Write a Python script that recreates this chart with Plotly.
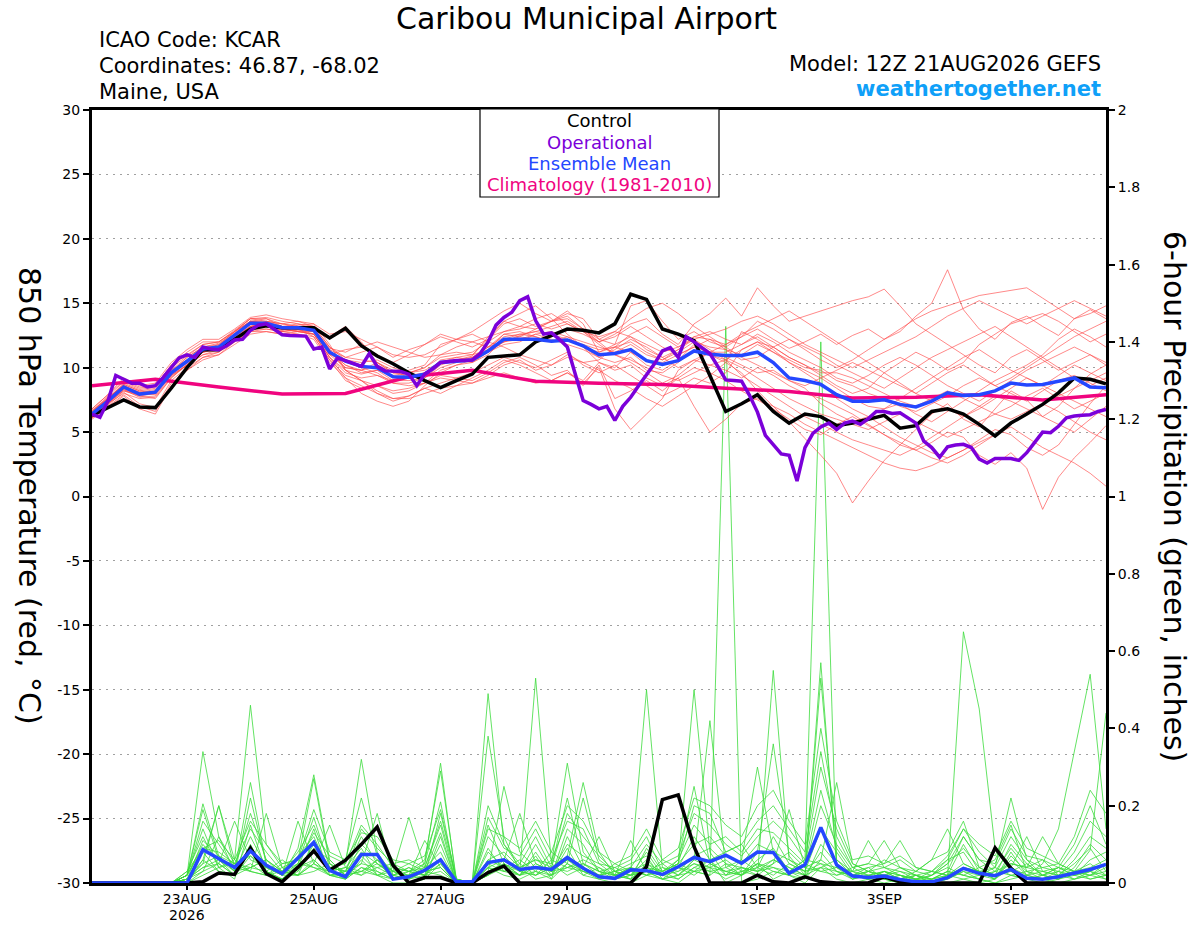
import pandas as pd
import plotly.graph_objects as go

# time axis: GEFS 12Z 21 Aug 2026 run, 6-hourly for 16 days
times = pd.date_range("2026-08-21 12:00", "2026-09-06 12:00", freq="6h")
op_times = pd.date_range("2026-08-21 12:00", "2026-09-06 12:00", freq="3h")
clim_times = pd.date_range("2026-08-21 12:00", "2026-09-06 12:00", freq="1D")

tick_dates = ["2026-08-23", "2026-08-25", "2026-08-27", "2026-08-29",
              "2026-09-01", "2026-09-03", "2026-09-05"]
tick_labels = ["23AUG", "25AUG", "27AUG", "29AUG", "1SEP", "3SEP", "5SEP"]
temp_ticks = [-30, -25, -20, -15, -10, -5, 0, 5, 10, 15, 20, 25, 30]
temp_tick_labels = ["-30", "-25", "-20", "-15", "-10", "-5", "0", "5", "10", "15", "20", "25", "30"]

# 850 hPa temperature (C)
control_temp = [6.3, 6.9, 7.5, 6.95, 6.9, 8.4, 10.0, 11.4, 11.4, 12.2, 13.0, 13.26, 13.1, 13.1, 13.1, 12.3,
                13.06, 11.7, 10.9, 10.3, 9.6, 9.0, 8.45, 9.0, 9.5, 10.8, 10.9, 11.0, 12.0, 12.5, 13.0, 12.9,
                12.7, 13.4, 15.7, 15.3, 13.0, 12.6, 12.1, 9.4, 6.6, 7.2, 7.9, 6.6, 5.7, 6.4, 6.2, 5.5,
                5.7, 6.0, 6.3, 5.3, 5.5, 6.6, 6.8, 6.4, 5.6, 4.7, 5.7, 6.4, 7.15, 8.05, 9.2, 9.1, 8.75]

mean_temp = [6.4, 7.4, 8.5, 7.95, 8.1, 9.6, 10.5, 11.45, 11.6, 12.5, 13.45, 13.45, 13.1, 13.1, 12.9, 11.2,
             10.5, 10.1, 10.0, 9.3, 9.25, 9.5, 10.4, 10.5, 10.6, 11.3, 12.2, 12.2, 12.2, 12.05, 12.15, 11.7,
             11.0, 11.1, 11.4, 10.55, 10.25, 10.55, 11.3, 11.05, 10.95, 10.95, 11.2, 10.4, 9.2, 9.0, 8.7, 7.9,
             7.4, 7.4, 7.5, 7.15, 6.95, 7.4, 8.05, 7.85, 7.9, 8.2, 8.8, 8.65, 8.7, 8.95, 9.2, 8.5, 8.45]

# operational run, 3-hourly
oper_temp = [6.4, 6.15, 7.4, 9.4, 9.1, 8.8, 8.8, 8.5, 8.6, 9.25, 10.0, 10.75, 11.0, 10.8, 11.6, 11.45,
             11.4, 11.7, 12.15, 12.2, 12.9, 13.3, 13.4, 13.0, 12.55, 12.5, 12.5, 12.45, 11.45, 11.6, 9.9, 10.75,
             10.55, 10.3, 10.1, 11.1, 10.1, 9.75, 9.75, 9.7, 9.5, 8.6, 9.5, 9.9, 10.4, 10.5, 10.55, 10.55,
             10.6, 11.1, 12.0, 13.3, 13.9, 14.3, 15.2, 15.5, 13.65, 12.6, 12.7, 12.2, 11.6, 9.5, 7.45, 7.15,
             6.8, 7.0, 5.9, 7.0, 7.7, 8.6, 9.4, 10.3, 11.3, 11.55, 10.8, 12.4, 12.0, 11.55, 11.1, 10.1,
             9.05, 9.0, 8.95, 7.85, 6.55, 4.75, 4.0, 3.3, 3.2, 1.2, 3.8, 4.9, 5.4, 5.7, 5.2, 5.7,
             5.85, 5.6, 6.05, 6.6, 6.6, 6.45, 6.5, 6.1, 5.7, 4.3, 3.8, 3.05, 3.85, 4.0, 4.05, 3.8,
             2.9, 2.6, 2.95, 2.95, 2.95, 2.8, 3.4, 4.2, 5.0, 4.95, 5.45, 6.1, 6.25, 6.3, 6.35, 6.6, 6.75]

clim_temp = [8.6, 9.1, 8.5, 7.95, 8.0, 9.3, 9.8, 8.95, 8.8, 8.7, 8.4, 8.15, 7.65, 7.7, 7.9, 7.5, 7.9]

# ensemble members (temperature)
temp_m01 = [6.6, 7.8, 8.9, 8.4, 8.6, 10.2, 11.0, 11.8, 12.0, 12.9, 13.8, 13.9, 13.6, 13.4, 13.0, 11.5,
            11.2, 11.8, 11.0, 10.4, 11.0, 11.8, 12.6, 12.2, 12.8, 13.6, 14.4, 15.0, 14.2, 13.6, 14.4, 13.4,
            11.2, 11.8, 14.8, 15.2, 13.6, 12.2, 12.8, 12.0, 11.6, 12.4, 13.0, 12.2, 11.5, 12.0, 12.6, 11.8,
            12.5, 13.0, 12.2, 12.8, 14.0, 15.0, 17.6, 14.5, 13.0, 12.2, 13.5, 14.0, 13.2, 12.5, 13.8, 14.5, 13.8]
temp_m02 = [6.2, 7.2, 8.2, 7.8, 7.6, 9.2, 10.3, 11.3, 11.4, 12.2, 13.2, 13.2, 12.9, 13.3, 13.4, 11.8,
            9.8, 9.0, 8.2, 7.6, 7.8, 8.4, 8.8, 9.2, 9.0, 9.6, 10.4, 10.8, 10.2, 9.4, 9.8, 8.6,
            10.2, 7.6, 8.2, 9.0, 8.2, 9.2, 10.0, 9.6, 9.0, 8.2, 7.5, 6.8, 6.0, 5.2, 4.8, 5.6,
            6.2, 5.5, 4.8, 4.0, 3.6, 4.2, 5.0, 4.6, 3.2, 2.5, 3.4, 2.2, -1.0, 1.5, 3.0, 4.2, 5.5]
temp_m03 = [6.5, 7.6, 8.7, 8.2, 8.4, 9.8, 10.6, 11.6, 11.9, 12.7, 13.6, 13.5, 13.0, 12.8, 12.6, 10.8,
            9.8, 9.5, 9.8, 9.0, 9.0, 9.2, 10.2, 10.6, 10.9, 12.4, 13.6, 14.2, 14.8, 13.8, 12.6, 11.6,
            10.4, 10.0, 11.2, 10.2, 9.8, 10.6, 11.8, 11.0, 10.4, 9.6, 8.2, 7.0, 5.8, 4.5, 3.2, 1.8,
            -0.5, 1.2, 2.8, 4.0, 5.2, 6.4, 7.2, 6.0, 5.4, 6.8, 8.2, 7.5, 6.2, 7.0, 8.4, 9.5, 10.2]
temp_m04 = [6.3, 7.3, 8.4, 7.9, 8.2, 9.6, 10.8, 11.6, 11.5, 12.4, 13.2, 13.6, 13.4, 13.6, 13.2, 11.2,
            10.0, 9.8, 10.4, 9.6, 9.8, 10.2, 11.8, 12.2, 12.0, 11.6, 12.0, 12.5, 12.8, 13.2, 13.6, 12.8,
            12.0, 12.6, 13.4, 13.8, 12.6, 11.8, 13.4, 14.2, 15.4, 14.0, 16.2, 14.8, 13.6, 14.0, 14.4, 14.8,
            15.2, 15.5, 16.1, 14.8, 13.4, 12.6, 11.8, 11.0, 10.2, 9.6, 10.8, 11.4, 10.6, 9.8, 10.4, 11.0, 10.2]
temp_m05 = [6.8, 7.9, 9.2, 8.6, 8.8, 10.4, 11.4, 12.2, 12.2, 13.0, 13.9, 14.1, 13.8, 13.6, 13.4, 12.6,
            12.8, 12.2, 11.6, 10.8, 11.4, 11.8, 12.4, 12.0, 11.6, 12.2, 13.6, 13.2, 13.0, 13.6, 14.2, 13.8,
            12.2, 11.8, 12.4, 11.8, 11.2, 11.6, 12.4, 12.8, 12.2, 11.8, 12.4, 11.6, 10.8, 10.2, 9.4, 8.6,
            8.0, 8.4, 9.6, 10.4, 11.2, 10.6, 9.8, 10.4, 11.8, 12.6, 13.4, 13.8, 14.2, 13.6, 12.8, 12.0, 12.6]
temp_m06 = [6.1, 7.0, 7.9, 7.0, 6.6, 8.8, 9.8, 10.8, 11.0, 12.0, 12.8, 13.0, 12.8, 12.6, 12.2, 10.4,
            9.2, 8.0, 7.4, 7.0, 7.4, 8.6, 9.6, 10.2, 10.6, 11.2, 11.8, 12.0, 12.6, 12.2, 11.8, 11.4,
            10.8, 11.4, 12.2, 11.6, 10.8, 10.0, 10.6, 11.2, 10.8, 10.2, 9.6, 9.8, 9.0, 8.4, 7.2, 6.4,
            5.8, 6.2, 5.4, 4.6, 4.0, 3.4, 3.0, 3.6, 4.4, 5.2, 4.8, 3.8, 3.2, 4.0, 5.6, 7.2, 8.6]
temp_m07 = [6.6, 7.7, 8.6, 8.1, 7.9, 9.4, 10.2, 11.2, 11.6, 12.6, 13.6, 13.8, 13.2, 13.0, 12.4, 10.6,
            9.0, 8.4, 8.6, 8.2, 8.4, 8.8, 9.2, 9.0, 8.8, 9.4, 10.2, 10.6, 9.8, 10.2, 11.0, 10.4,
            9.8, 9.0, 8.4, 7.6, 7.0, 7.8, 8.6, 9.4, 10.4, 12.8, 12.2, 11.4, 10.4, 9.8, 9.2, 8.4,
            7.6, 7.0, 6.8, 7.2, 6.4, 5.8, 6.6, 7.4, 8.2, 9.0, 9.6, 10.2, 11.0, 12.2, 13.0, 12.4, 11.6]
temp_m08 = [6.4, 7.5, 8.6, 8.0, 8.1, 9.5, 10.4, 11.2, 11.6, 12.6, 13.4, 13.2, 12.9, 13.1, 13.2, 11.6,
            10.8, 10.6, 10.4, 9.8, 9.2, 9.4, 10.6, 10.8, 10.6, 11.4, 12.6, 12.8, 12.4, 12.0, 12.2, 11.6,
            11.2, 11.6, 12.0, 11.2, 10.6, 11.2, 12.0, 11.6, 11.4, 11.0, 11.8, 11.2, 10.6, 10.0, 9.8, 9.0,
            8.6, 8.0, 7.6, 7.0, 6.6, 7.2, 7.8, 8.6, 9.2, 8.6, 8.0, 7.4, 8.2, 9.0, 9.4, 8.8, 8.2]
temp_m09 = [6.2, 7.3, 8.3, 7.7, 7.8, 9.3, 10.2, 11.0, 11.4, 12.2, 13.0, 13.0, 12.8, 12.9, 12.8, 11.0,
            10.6, 10.4, 10.6, 10.0, 9.6, 9.8, 10.4, 10.8, 11.0, 12.2, 13.4, 13.8, 13.2, 13.6, 14.0, 13.0,
            12.0, 11.0, 10.6, 10.0, 9.4, 9.0, 9.6, 10.2, 10.6, 11.4, 12.0, 11.2, 10.4, 9.6, 8.8, 7.6,
            6.8, 6.2, 6.8, 7.6, 8.4, 9.2, 10.0, 10.8, 11.4, 10.6, 9.8, 9.2, 8.6, 9.4, 10.2, 9.6, 9.0]
temp_m10 = [6.7, 7.6, 8.8, 8.3, 8.5, 10.0, 10.9, 11.8, 12.0, 12.8, 13.8, 13.6, 13.4, 13.2, 13.0, 11.2,
            10.2, 9.8, 9.4, 8.8, 8.8, 9.2, 10.0, 10.4, 10.8, 11.6, 12.4, 12.6, 12.4, 12.0, 12.4, 12.0,
            11.6, 11.2, 11.8, 11.0, 10.6, 11.4, 12.4, 12.2, 11.8, 12.4, 13.6, 13.0, 12.2, 11.4, 10.6, 10.0,
            10.6, 11.4, 12.2, 13.0, 13.8, 14.4, 14.8, 15.2, 15.6, 15.8, 16.0, 16.2, 15.4, 14.6, 13.8, 14.2, 14.8]
temp_m11 = [6.0, 6.9, 7.8, 6.8, 6.4, 8.6, 9.8, 10.6, 11.0, 11.8, 12.6, 12.8, 12.6, 12.8, 12.6, 10.8,
            9.2, 8.6, 8.0, 7.6, 7.6, 8.0, 8.4, 8.6, 8.8, 9.2, 9.6, 9.2, 8.8, 9.0, 9.6, 8.8,
            10.0, 6.8, 5.2, 6.4, 7.6, 9.8, 10.6, 10.2, 9.8, 9.2, 10.0, 9.4, 8.6, 8.0, 7.6, 7.0,
            6.4, 5.6, 4.8, 4.2, 3.6, 3.0, 2.6, 3.2, 4.0, 4.8, 5.6, 6.4, 7.2, 6.6, 5.8, 5.0, 4.4]
temp_m12 = [6.5, 7.5, 8.5, 8.1, 8.3, 9.7, 10.6, 11.5, 11.7, 12.8, 13.6, 13.4, 13.0, 12.8, 12.8, 11.2,
            10.2, 9.6, 9.8, 9.4, 9.6, 10.0, 11.0, 11.2, 11.0, 11.4, 12.0, 12.4, 13.0, 13.6, 13.8, 13.0,
            12.2, 12.8, 13.8, 14.6, 15.0, 14.2, 13.2, 12.4, 11.6, 10.8, 10.2, 9.6, 9.0, 8.6, 9.2, 9.8,
            10.4, 9.8, 9.2, 8.6, 8.0, 8.8, 9.6, 10.2, 9.4, 8.6, 9.2, 10.0, 10.8, 11.6, 12.4, 13.0, 13.6]
temp_m13 = [6.3, 7.4, 8.4, 7.8, 8.0, 9.4, 10.4, 11.4, 11.8, 12.6, 13.4, 13.2, 12.8, 13.0, 13.0, 11.4,
            10.8, 11.2, 11.6, 11.0, 10.8, 11.0, 11.6, 12.2, 12.6, 12.0, 11.6, 11.0, 10.6, 10.2, 10.8, 10.4,
            10.6, 11.6, 12.6, 13.2, 12.4, 11.6, 12.2, 11.4, 10.6, 9.4, 8.6, 7.8, 7.0, 6.2, 5.6, 5.0,
            4.4, 4.0, 3.6, 3.2, 3.8, 4.6, 5.4, 6.2, 7.0, 7.8, 7.4, 6.8, 6.2, 5.6, 5.0, 6.0, 7.0]
temp_m14 = [6.6, 7.6, 8.7, 8.2, 8.1, 9.7, 10.6, 11.4, 11.6, 12.6, 13.6, 13.6, 13.2, 13.0, 12.8, 11.0,
            10.0, 9.8, 10.2, 9.6, 9.4, 9.6, 10.4, 10.6, 10.4, 11.0, 12.2, 12.6, 12.8, 12.6, 12.2, 11.8,
            11.4, 11.6, 11.2, 10.6, 10.4, 11.0, 11.6, 11.2, 11.2, 11.8, 12.6, 12.0, 11.2, 10.6, 10.0, 9.2,
            8.8, 9.4, 10.2, 10.8, 10.2, 9.4, 8.6, 8.0, 7.4, 8.2, 9.0, 9.8, 10.4, 11.0, 11.6, 11.0, 10.4]
temp_m15 = [6.4, 7.3, 8.2, 7.9, 8.0, 9.4, 10.2, 11.2, 11.4, 12.2, 13.2, 13.4, 13.2, 13.4, 13.2, 11.6,
            10.6, 10.0, 9.6, 8.8, 8.6, 8.8, 9.8, 10.2, 10.4, 11.2, 12.0, 12.2, 12.6, 12.8, 12.4, 11.6,
            10.8, 10.4, 10.8, 9.8, 9.6, 10.4, 11.4, 11.0, 10.6, 10.0, 9.2, 8.4, 7.6, 7.0, 6.4, 6.0,
            5.6, 5.2, 5.8, 6.4, 5.8, 5.2, 4.6, 5.2, 5.8, 6.4, 7.0, 7.8, 8.4, 7.6, 6.8, 7.4, 8.0]
temp_m16 = [6.2, 7.2, 8.3, 7.9, 8.0, 9.6, 10.4, 11.2, 11.6, 12.4, 13.2, 13.4, 13.0, 13.0, 12.6, 11.0,
            11.4, 11.6, 12.0, 11.6, 11.2, 10.8, 11.0, 11.6, 12.0, 12.4, 12.8, 13.2, 13.8, 14.2, 13.4, 12.8,
            11.8, 11.0, 10.4, 9.6, 8.8, 9.4, 10.4, 11.2, 11.8, 12.6, 13.2, 13.8, 14.4, 13.6, 12.8, 12.0,
            11.2, 10.4, 9.6, 8.8, 8.0, 7.4, 6.8, 6.2, 6.8, 7.6, 8.4, 9.2, 8.6, 8.0, 7.4, 6.8, 6.2]
temp_m17 = [6.5, 7.6, 8.6, 8.0, 8.2, 9.8, 10.8, 11.6, 11.8, 12.8, 13.6, 13.4, 13.0, 12.8, 12.6, 10.8,
            9.6, 9.2, 9.4, 9.0, 9.2, 9.6, 10.4, 10.6, 10.8, 11.6, 12.6, 12.4, 12.2, 12.4, 13.0, 12.6,
            12.0, 12.4, 13.2, 12.4, 11.6, 11.0, 11.6, 12.2, 11.4, 10.6, 10.8, 11.6, 12.2, 11.6, 11.0, 10.2,
            9.6, 9.0, 8.4, 9.2, 10.0, 10.8, 11.4, 12.0, 12.6, 13.2, 12.4, 11.6, 10.8, 10.0, 9.2, 8.6, 9.2]
temp_m18 = [6.3, 7.2, 8.0, 7.6, 7.7, 9.2, 10.2, 11.0, 11.2, 12.2, 13.0, 13.2, 13.0, 13.2, 13.0, 11.4,
            9.8, 9.0, 8.6, 8.0, 8.2, 8.8, 9.4, 9.2, 9.6, 10.2, 10.8, 10.4, 10.0, 10.6, 11.2, 10.2,
            9.6, 10.2, 9.4, 8.6, 7.8, 8.4, 9.2, 8.8, 9.6, 11.4, 12.0, 11.6, 10.8, 10.2, 9.6, 9.6,
            9.2, 8.6, 8.0, 7.4, 7.0, 7.6, 8.2, 7.6, 7.0, 6.4, 6.0, 6.6, 7.2, 7.8, 8.4, 9.0, 9.6]
temp_m19 = [6.8, 7.9, 9.0, 8.5, 8.6, 10.2, 11.2, 12.0, 12.0, 12.8, 13.8, 13.8, 13.4, 13.2, 13.0, 12.4,
            13.2, 12.0, 10.4, 9.6, 9.6, 10.0, 10.8, 11.0, 11.2, 12.0, 12.8, 13.0, 13.4, 13.0, 13.4, 12.8,
            12.4, 12.8, 12.4, 11.4, 10.8, 11.4, 12.2, 12.6, 13.0, 13.6, 14.0, 13.4, 12.6, 11.8, 11.2, 10.6,
            10.0, 10.6, 11.2, 11.8, 12.4, 13.2, 14.0, 14.6, 15.2, 14.6, 14.0, 13.4, 14.0, 14.6, 15.2, 14.6, 14.0]
temp_m20 = [6.1, 7.1, 8.1, 7.2, 6.9, 9.0, 10.0, 10.8, 11.2, 12.0, 12.8, 12.8, 12.6, 12.6, 12.4, 10.6,
            9.4, 9.0, 8.0, 7.4, 7.8, 8.4, 8.0, 8.6, 9.2, 9.8, 10.6, 10.2, 9.6, 9.0, 9.6, 9.0,
            10.4, 9.8, 10.2, 9.2, 8.6, 9.2, 7.0, 5.0, 6.0, 7.2, 7.6, 7.0, 6.4, 5.6, 5.0, 4.4,
            3.8, 3.2, 2.6, 2.2, 2.0, 2.4, 3.0, 3.6, 4.2, 4.8, 5.4, 4.6, 3.8, 3.2, 2.6, 1.8, 0.8]

# 6-hour precipitation (inches)
control_precip = [0, 0, 0, 0, 0, 0, 0, 0.003, 0.026, 0.022, 0.09, 0.024, 0.003, 0.041, 0.083, 0.033,
                  0.059, 0.10, 0.145, 0.046, 0, 0.014, 0.014, 0, 0, 0.027, 0.044, 0, 0, 0, 0.002, 0,
                  0, 0, 0, 0.042, 0.216, 0.228, 0.094, 0, 0, 0, 0.02, 0.003, 0, 0.016, 0.003, 0,
                  0, 0, 0.016, 0.003, 0, 0, 0, 0, 0, 0.091, 0.038, 0, 0, 0, 0, 0, 0]
mean_precip = [0, 0, 0, 0, 0, 0, 0, 0.086, 0.063, 0.04, 0.083, 0.046, 0.024, 0.063, 0.105, 0.033,
               0.016, 0.074, 0.074, 0.01, 0.016, 0.033, 0.06, 0.003, 0.003, 0.053, 0.06, 0.035, 0.04, 0.035, 0.066, 0.038,
               0.016, 0.012, 0.034, 0.032, 0.022, 0.042, 0.066, 0.055, 0.072, 0.051, 0.08, 0.079, 0.025, 0.047, 0.144, 0.047,
               0.018, 0.014, 0.018, 0.009, 0.003, 0.003, 0.014, 0.038, 0.025, 0.019, 0.035, 0.012, 0.01, 0.016, 0.025, 0.035, 0.048]

precip_m01 = [0, 0, 0, 0, 0, 0, 0.02, 0.34, 0.12, 0.03, 0.05, 0.02, 0.01, 0.04, 0.08, 0.03,
              0.01, 0.06, 0.02, 0, 0, 0.01, 0.05, 0, 0, 0.04, 0.02, 0.01, 0.03, 0.01, 0.05, 0.02,
              0.01, 0, 0, 0.02, 0.01, 0, 0.03, 0.02, 1.44, 0, 0.01, 0.03, 0.02, 0, 0.04, 0.01,
              0, 0.01, 0.02, 0, 0, 0, 0.01, 0.03, 0.01, 0, 0.02, 0.01, 0, 0.01, 0.02, 0.03, 0.05]
precip_m02 = [0, 0, 0, 0, 0, 0, 0.01, 0.06, 0.2, 0.06, 0.46, 0.1, 0.04, 0.02, 0.06, 0.02,
              0.03, 0.08, 0.05, 0.02, 0.04, 0.02, 0.03, 0, 0, 0.02, 0.06, 0.03, 0.53, 0.05, 0.02, 0.04,
              0.02, 0.01, 0.03, 0.05, 0.02, 0.01, 0.04, 0.06, 0, 0.02, 0.05, 0.01, 0.03, 0.06, 1.40, 0.05,
              0.02, 0.01, 0, 0.01, 0.02, 0, 0, 0.01, 0, 0.01, 0.04, 0.02, 0.01, 0, 0.01, 0.02, 0.01]
precip_m03 = [0, 0, 0, 0, 0, 0, 0.03, 0.09, 0.08, 0.05, 0.07, 0.04, 0.02, 0.09, 0.28, 0.06,
              0.02, 0.03, 0.06, 0.01, 0.02, 0.05, 0.31, 0, 0, 0.08, 0.04, 0.02, 0.05, 0.03, 0.06, 0.03,
              0.02, 0.03, 0.01, 0.04, 0.02, 0.05, 0.5, 0.08, 0.02, 0.04, 0.03, 0.06, 0.04, 0.02, 0.57, 0.04,
              0.01, 0.03, 0.04, 0.02, 0.01, 0, 0.02, 0.65, 0.45, 0.09, 0.03, 0.01, 0.02, 0.01, 0.03, 0.02, 0.04]
precip_m04 = [0, 0, 0, 0, 0, 0, 0.01, 0.04, 0.05, 0.02, 0.08, 0.03, 0.06, 0.03, 0.1, 0.04,
              0.05, 0.32, 0.08, 0.02, 0.01, 0.03, 0.04, 0, 0, 0.38, 0.12, 0.03, 0.02, 0.04, 0.07, 0.26,
              0.08, 0.02, 0.03, 0.5, 0.04, 0.02, 0.03, 0.04, 0.01, 0.03, 0.02, 0.55, 0.06, 0.03, 0.05, 0.02,
              0.03, 0.02, 0.01, 0, 0.02, 0.01, 0.03, 0.02, 0.01, 0, 0.01, 0.02, 0.03, 0.04, 0.02, 0.01, 0.02]
precip_m05 = [0, 0, 0, 0, 0, 0, 0, 0.06, 0.03, 0.02, 0.22, 0.05, 0.02, 0.16, 0.05, 0.03,
              0.04, 0.02, 0.06, 0.03, 0.17, 0.04, 0.06, 0.01, 0, 0.03, 0.25, 0.08, 0.04, 0.02, 0.05, 0.03,
              0.02, 0.01, 0.04, 0.03, 0.01, 0.02, 0.06, 0.42, 0.04, 0.02, 0.05, 0.03, 0.02, 0.01, 0.06, 0.03,
              0.01, 0.02, 0.03, 0.01, 0.02, 0, 0.01, 0.03, 0.02, 0.04, 0.22, 0.06, 0.02, 0.01, 0.03, 0.05, 0.02]
precip_m06 = [0, 0, 0, 0, 0, 0, 0.02, 0.205, 0.07, 0.03, 0.04, 0.06, 0.03, 0.02, 0.05, 0.02,
              0.01, 0.04, 0.03, 0.01, 0.02, 0.03, 0.04, 0, 0, 0.49, 0.1, 0.04, 0.06, 0.05, 0.31, 0.08,
              0.03, 0.02, 0.01, 0.05, 0.03, 0.01, 0.04, 0.03, 0.02, 0.06, 0.3, 0.08, 0.03, 0.02, 0.53, 0.06,
              0.02, 0.01, 0.03, 0.02, 0, 0.01, 0.02, 0.04, 0.03, 0.01, 0.06, 0.02, 0.05, 0.14, 0.34, 0.54, 0.14]
precip_m07 = [0, 0, 0, 0, 0, 0, 0.01, 0.05, 0.2, 0.04, 0.03, 0.02, 0.05, 0.06, 0.27, 0.05,
              0.02, 0.05, 0.04, 0.02, 0.03, 0.06, 0.29, 0.01, 0, 0.06, 0.04, 0.02, 0.03, 0.08, 0.05, 0.22,
              0.06, 0.03, 0.02, 0.03, 0.05, 0.02, 0.06, 0.04, 0.03, 0.02, 0.08, 0.36, 0.07, 0.02, 0.04, 0.03,
              0.02, 0.03, 0.01, 0.02, 0.01, 0.02, 0.04, 0.02, 0.01, 0.03, 0.05, 0.04, 0.06, 0.02, 0.03, 0.01, 0.02]
precip_m08 = [0, 0, 0, 0, 0, 0, 0.02, 0.19, 0.06, 0.02, 0.04, 0.03, 0.01, 0.05, 0.04, 0.03,
              0.06, 0.22, 0.07, 0.03, 0.01, 0.02, 0.05, 0, 0, 0.04, 0.06, 0.18, 0.05, 0.03, 0.04, 0.05,
              0.03, 0.02, 0.04, 0.02, 0.03, 0.06, 0.25, 0.05, 0.03, 0.04, 0.02, 0.05, 0.08, 0.04, 0.06, 0.26,
              0.05, 0.03, 0.02, 0.01, 0.03, 0.06, 0.08, 0.16, 0.04, 0.02, 0.03, 0.05, 0.02, 0.03, 0.01, 0.02, 0.03]
precip_m09 = [0, 0, 0, 0, 0, 0, 0, 0.03, 0.05, 0.16, 0.06, 0.04, 0.03, 0.02, 0.05, 0.15,
              0.04, 0.03, 0.02, 0.04, 0.03, 0.05, 0.21, 0, 0, 0.05, 0.03, 0.04, 0.06, 0.04, 0.22, 0.05,
              0.03, 0.04, 0.02, 0.03, 0.01, 0.02, 0.05, 0.03, 0.04, 0.06, 0.03, 0.05, 0.19, 0.04, 0.03, 0.02,
              0.04, 0.05, 0.11, 0.04, 0.02, 0.01, 0.02, 0.05, 0.03, 0.04, 0.02, 0.03, 0.04, 0.05, 0.03, 0.085, 0.44]
precip_m10 = [0, 0, 0, 0, 0, 0, 0.01, 0.04, 0.06, 0.03, 0.26, 0.05, 0.02, 0.04, 0.06, 0.02,
              0.03, 0.05, 0.18, 0.02, 0.04, 0.02, 0.06, 0, 0, 0.03, 0.05, 0.02, 0.04, 0.03, 0.06, 0.04,
              0.12, 0.03, 0.02, 0.04, 0.03, 0.05, 0.03, 0.06, 0.02, 0.03, 0.04, 0.02, 0.05, 0.03, 0.04, 0.06,
              0.03, 0.11, 0.04, 0.03, 0.02, 0.01, 0.03, 0.02, 0.04, 0.06, 0.15, 0.03, 0.02, 0.04, 0.03, 0.02, 0.05]
precip_m11 = [0, 0, 0, 0, 0, 0, 0.02, 0.14, 0.04, 0.05, 0.03, 0.18, 0.04, 0.02, 0.03, 0.05,
              0.02, 0.03, 0.05, 0.03, 0.02, 0.11, 0.04, 0, 0, 0.02, 0.04, 0.06, 0.03, 0.02, 0.04, 0.06,
              0.04, 0.02, 0.11, 0.03, 0.02, 0.04, 0.03, 0.02, 0.05, 0.04, 0.03, 0.04, 0.02, 0.05, 0.03, 0.04,
              0.02, 0.03, 0.02, 0.04, 0.03, 0.06, 0.14, 0.05, 0.03, 0.02, 0.04, 0.12, 0.03, 0.02, 0.01, 0.03, 0.02]
precip_m12 = [0, 0, 0, 0, 0, 0, 0.01, 0.03, 0.12, 0.05, 0.04, 0.06, 0.03, 0.05, 0.17, 0.04,
              0.03, 0.02, 0.04, 0.05, 0.03, 0.04, 0.16, 0.01, 0, 0.04, 0.03, 0.05, 0.02, 0.04, 0.03, 0.05,
              0.02, 0.05, 0.03, 0.02, 0.04, 0.03, 0.05, 0.04, 0.06, 0.03, 0.05, 0.04, 0.03, 0.06, 0.05, 0.04,
              0.03, 0.04, 0.05, 0.11, 0.04, 0.03, 0.02, 0.04, 0.03, 0.02, 0.05, 0.04, 0.12, 0.05, 0.03, 0.04, 0.06]
precip_m13 = [0, 0, 0, 0, 0, 0, 0, 0.02, 0.04, 0.06, 0.03, 0.02, 0.04, 0.06, 0.04, 0.02,
              0.01, 0.04, 0.02, 0.03, 0.05, 0.03, 0.02, 0, 0, 0.02, 0.05, 0.03, 0.02, 0.06, 0.04, 0.03,
              0.01, 0.02, 0.04, 0.02, 0.06, 0.04, 0.02, 0.05, 0.03, 0.02, 0.04, 0.06, 0.04, 0.02, 0.08, 0.03,
              0.02, 0.01, 0.03, 0.02, 0.01, 0.03, 0.02, 0.01, 0.02, 0.03, 0.02, 0.01, 0.02, 0.04, 0.02, 0.03, 0.01]
precip_m14 = [0, 0, 0, 0, 0, 0, 0.01, 0.08, 0.03, 0.02, 0.07, 0.03, 0.01, 0.03, 0.09, 0.06,
              0.02, 0.07, 0.03, 0.01, 0.02, 0.04, 0.08, 0, 0, 0.06, 0.08, 0.04, 0.01, 0.02, 0.09, 0.02,
              0.04, 0.01, 0.02, 0.08, 0.02, 0.03, 0.07, 0.09, 0.05, 0.02, 0.06, 0.09, 0.03, 0.01, 0.1, 0.05,
              0.01, 0.02, 0.01, 0, 0.01, 0.02, 0.06, 0.08, 0.02, 0.01, 0.07, 0.03, 0.01, 0.02, 0.05, 0.09, 0.03]
precip_m15 = [0, 0, 0, 0, 0, 0, 0.02, 0.1, 0.05, 0.02, 0.1, 0.02, 0.03, 0.07, 0.12, 0.03,
              0.04, 0.09, 0.02, 0.01, 0.03, 0.02, 0.1, 0, 0, 0.09, 0.03, 0.02, 0.07, 0.01, 0.12, 0.04,
              0.02, 0.03, 0.05, 0.07, 0.01, 0.04, 0.12, 0.06, 0.08, 0.1, 0.04, 0.12, 0.05, 0.03, 0.14, 0.08,
              0.02, 0.04, 0.01, 0.02, 0.01, 0, 0.02, 0.1, 0.03, 0.01, 0.08, 0.02, 0.01, 0.03, 0.02, 0.06, 0.08]
precip_m16 = [0, 0, 0, 0, 0, 0, 0.01, 0.05, 0.07, 0.03, 0.12, 0.04, 0.02, 0.02, 0.11, 0.04,
              0.03, 0.12, 0.05, 0.02, 0.01, 0.03, 0.13, 0, 0, 0.12, 0.07, 0.03, 0.1, 0.03, 0.1, 0.07,
              0.05, 0.02, 0.01, 0.09, 0.03, 0.05, 0.1, 0.12, 0.07, 0.05, 0.1, 0.08, 0.06, 0.04, 0.2, 0.1,
              0.04, 0.02, 0.03, 0.01, 0, 0.02, 0.05, 0.09, 0.04, 0.02, 0.1, 0.05, 0.02, 0.01, 0.04, 0.1, 0.06]
precip_m17 = [0, 0, 0, 0, 0, 0, 0.03, 0.12, 0.04, 0.01, 0.15, 0.03, 0.01, 0.04, 0.14, 0.02,
              0.02, 0.1, 0.06, 0.03, 0.02, 0.01, 0.12, 0, 0, 0.15, 0.05, 0.02, 0.08, 0.02, 0.14, 0.1,
              0.03, 0.01, 0.02, 0.06, 0.02, 0.06, 0.15, 0.1, 0.12, 0.08, 0.14, 0.13, 0.09, 0.05, 0.24, 0.09,
              0.03, 0.01, 0.02, 0.03, 0.01, 0.01, 0.03, 0.12, 0.06, 0.03, 0.09, 0.04, 0.03, 0.02, 0.06, 0.12, 0.09]
precip_m18 = [0, 0, 0, 0, 0, 0, 0.02, 0.16, 0.1, 0.04, 0.18, 0.06, 0.02, 0.05, 0.13, 0.07,
              0.05, 0.15, 0.1, 0.04, 0.03, 0.02, 0.18, 0.01, 0, 0.2, 0.1, 0.05, 0.12, 0.04, 0.18, 0.12,
              0.07, 0.03, 0.04, 0.1, 0.05, 0.07, 0.18, 0.15, 0.1, 0.07, 0.12, 0.16, 0.12, 0.06, 0.3, 0.14,
              0.05, 0.03, 0.06, 0.04, 0.02, 0.03, 0.07, 0.14, 0.08, 0.04, 0.12, 0.06, 0.04, 0.03, 0.08, 0.16, 0.12]
precip_m19 = [0, 0, 0, 0, 0, 0, 0.01, 0.11, 0.07, 0.05, 0.14, 0.08, 0.03, 0.08, 0.15, 0.05,
              0.03, 0.14, 0.09, 0.05, 0.06, 0.04, 0.15, 0, 0, 0.17, 0.09, 0.07, 0.14, 0.06, 0.16, 0.14,
              0.05, 0.04, 0.06, 0.12, 0.03, 0.05, 0.2, 0.18, 0.08, 0.1, 0.16, 0.2, 0.14, 0.08, 0.34, 0.12,
              0.04, 0.05, 0.04, 0.06, 0.03, 0.02, 0.05, 0.12, 0.06, 0.05, 0.14, 0.07, 0.06, 0.04, 0.1, 0.2, 0.1]
precip_m20 = [0, 0, 0, 0, 0, 0, 0.02, 0.09, 0.11, 0.06, 0.16, 0.1, 0.05, 0.06, 0.19, 0.08,
              0.06, 0.13, 0.12, 0.06, 0.05, 0.07, 0.19, 0.01, 0, 0.14, 0.12, 0.09, 0.16, 0.08, 0.2, 0.16,
              0.08, 0.05, 0.07, 0.14, 0.06, 0.09, 0.22, 0.2, 0.15, 0.12, 0.2, 0.24, 0.16, 0.1, 0.4, 0.16,
              0.06, 0.07, 0.05, 0.07, 0.04, 0.03, 0.06, 0.14, 0.1, 0.07, 0.16, 0.09, 0.07, 0.05, 0.12, 0.24, 0.18]

temp_members = [temp_m01, temp_m02, temp_m03, temp_m04, temp_m05, temp_m06, temp_m07,
                temp_m08, temp_m09, temp_m10, temp_m11, temp_m12, temp_m13, temp_m14,
                temp_m15, temp_m16, temp_m17, temp_m18, temp_m19, temp_m20]
precip_members = [precip_m01, precip_m02, precip_m03, precip_m04, precip_m05, precip_m06,
                  precip_m07, precip_m08, precip_m09, precip_m10, precip_m11, precip_m12,
                  precip_m13, precip_m14, precip_m15, precip_m16, precip_m17, precip_m18,
                  precip_m19, precip_m20]

FONT = "DejaVu Sans"
RED = "rgba(255,70,70,0.8)"
GREEN = "#3cdc3c"
PURPLE = "#7b00d9"
BLUE = "#2447ff"
PINK = "#f0047f"

# plot area in pixels: x 92..1106, y 110..883
def px(x):
    return (x - 92) / 1014.0


def py(y):
    return (883 - y) / 773.0


fig = go.Figure()

# precipitation goes on the main (right) axis, temperature overlays it
for member in precip_members:
    fig.add_trace(go.Scatter(x=times, y=member, mode="lines", yaxis="y",
                             line=dict(color=GREEN, width=0.8), hoverinfo="skip"))
fig.add_trace(go.Scatter(x=times, y=control_precip, mode="lines", yaxis="y",
                         line=dict(color="black", width=3.5)))
fig.add_trace(go.Scatter(x=times, y=mean_precip, mode="lines", yaxis="y",
                         line=dict(color=BLUE, width=3.5)))

for member in temp_members:
    fig.add_trace(go.Scatter(x=times, y=member, mode="lines", yaxis="y2",
                             line=dict(color=RED, width=0.8), hoverinfo="skip"))
fig.add_trace(go.Scatter(x=clim_times, y=clim_temp, mode="lines", yaxis="y2",
                         line=dict(color=PINK, width=3.5)))
fig.add_trace(go.Scatter(x=times, y=control_temp, mode="lines", yaxis="y2",
                         line=dict(color="black", width=3.5)))
fig.add_trace(go.Scatter(x=times, y=mean_temp, mode="lines", yaxis="y2",
                         line=dict(color=BLUE, width=3.5)))
fig.add_trace(go.Scatter(x=op_times, y=oper_temp, mode="lines", yaxis="y2",
                         line=dict(color=PURPLE, width=3.5)))

fig.update_layout(
    width=1200, height=927,
    margin=dict(l=92, r=94, t=110, b=44, autoexpand=False),
    paper_bgcolor="white", plot_bgcolor="white",
    showlegend=False,
    font=dict(family=FONT, size=14, color="black"),
    xaxis=dict(type="date", range=["2026-08-21 12:00", "2026-09-06 12:00"],
               tickvals=tick_dates, ticktext=tick_labels, automargin=False,
               ticks="outside", ticklen=4, tickwidth=1.5, tickcolor="black",
               ticklabelstandoff=-3,
               showline=True, linewidth=3, linecolor="black", mirror=True,
               showgrid=False, zeroline=False, tickfont=dict(size=14)),
    yaxis=dict(side="right", range=[0, 2], dtick=0.2, tick0=0, automargin=False,
               ticks="outside", ticklen=6, tickwidth=1.5, tickcolor="black",
               showline=True, linewidth=3, linecolor="black",
               showgrid=False, zeroline=False, tickfont=dict(size=14)),
    yaxis2=dict(overlaying="y", side="left", range=[-30, 30], automargin=False,
                tickvals=temp_ticks, ticktext=temp_tick_labels,
                ticks="outside", ticklen=6, tickwidth=1.5, tickcolor="black",
                showline=True, linewidth=3, linecolor="black",
                showgrid=True, gridcolor="#a0a0a0", griddash="2px,5px", gridwidth=1,
                zeroline=False, tickfont=dict(size=14)),
)

# year under the first date label
fig.add_annotation(text="2026", xref="x", yref="paper", x=tick_dates[0], y=py(915),
                   xanchor="center", yanchor="middle", showarrow=False,
                   font=dict(family=FONT, size=14, color="black"))

# legend box
fig.add_shape(type="rect", xref="paper", yref="paper",
              x0=px(480), x1=px(719), y0=py(197), y1=py(109),
              line=dict(color="black", width=1.2), fillcolor="white", layer="above")
legend_items = [("Control", "black", 121), ("Operational", PURPLE, 142),
                ("Ensemble Mean", BLUE, 163), ("Climatology (1981-2010)", PINK, 185)]
for text, color, ypix in legend_items:
    fig.add_annotation(text=text, xref="paper", yref="paper", x=px(599.5), y=py(ypix),
                       xanchor="center", yanchor="middle", showarrow=False,
                       font=dict(family=FONT, size=18, color=color))

# header texts
fig.add_annotation(text="Caribou Municipal Airport", xref="paper", yref="paper",
                   x=px(586), y=py(19), xanchor="center", yanchor="middle", showarrow=False,
                   font=dict(family=FONT, size=30, color="black"))
for text, ypix in [("ICAO Code: KCAR", 40), ("Coordinates: 46.87, -68.02", 66), ("Maine, USA", 92)]:
    fig.add_annotation(text=text, xref="paper", yref="paper", x=px(97), y=py(ypix),
                       xanchor="left", yanchor="middle", showarrow=False,
                       font=dict(family=FONT, size=21, color="black"))
fig.add_annotation(text="Model: 12Z 21AUG2026 GEFS", xref="paper", yref="paper",
                   x=px(1103), y=py(64), xanchor="right", yanchor="middle", showarrow=False,
                   font=dict(family=FONT, size=21, color="black"))
fig.add_annotation(text="<b>weathertogether.net</b>", xref="paper", yref="paper",
                   x=px(1103), y=py(89), xanchor="right", yanchor="middle", showarrow=False,
                   font=dict(family=FONT, size=21, color="#0fa0f8"))

# axis titles
fig.add_annotation(text="850 hPa Temperature (red, \u00b0C)", xref="paper", yref="paper",
                   x=px(30), y=py(496), textangle=90, xanchor="center", yanchor="middle",
                   showarrow=False, font=dict(family=FONT, size=30, color="black"))
fig.add_annotation(text="6-hour Precipitation (green, inches)", xref="paper", yref="paper",
                   x=px(1175), y=py(496), textangle=90, xanchor="center", yanchor="middle",
                   showarrow=False, font=dict(family=FONT, size=30, color="black"))

# the page has a default body margin; remove it so the figure sits at the window corner
fig.write_html("out.html", config={"displayModeBar": False},
               post_script="document.body.style.margin='0px';")
